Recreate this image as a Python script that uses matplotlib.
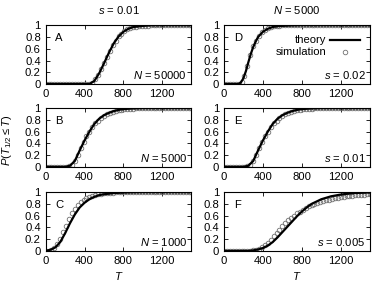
import numpy as np
import matplotlib
matplotlib.use("Agg")
import matplotlib.pyplot as plt

plt.rcParams['font.family'] = ['Liberation Sans', 'DejaVu Sans']
plt.rcParams['mathtext.fontset'] = 'custom'
plt.rcParams['mathtext.rm'] = 'Liberation Sans'
plt.rcParams['mathtext.it'] = 'Liberation Sans:italic'

# theory curves
T_th = [0, 50, 100, 150, 200, 250, 300, 350, 400, 450, 500, 550, 600, 650, 700,
        750, 800, 850, 900, 1000, 1100, 1200, 1300, 1400, 1500]
th_A = [0, 0, 0, 0, 0, 0, 0, 0, 0, 0, 0.05, 0.18, 0.35, 0.53, 0.69,
        0.81, 0.89, 0.94, 0.97, 0.99, 1, 1, 1, 1, 1]
th_B = [0, 0, 0, 0, 0, 0.02, 0.1, 0.28, 0.45, 0.6, 0.73, 0.82, 0.88, 0.92, 0.95,
        0.97, 0.985, 0.99, 0.995, 1, 1, 1, 1, 1, 1]
th_C = [0, 0.02, 0.06, 0.15, 0.3, 0.47, 0.62, 0.74, 0.82, 0.88, 0.92, 0.95, 0.965, 0.975, 0.985,
        0.99, 0.993, 0.996, 0.998, 1, 1, 1, 1, 1, 1]
th_F = [0, 0, 0, 0, 0, 0, 0.01, 0.025, 0.05, 0.09, 0.15, 0.23, 0.32, 0.41, 0.5,
        0.59, 0.67, 0.74, 0.8, 0.88, 0.93, 0.96, 0.98, 0.99, 0.995]
T_th_D = [0, 100, 150, 175, 200, 225, 250, 275, 300, 325, 350, 400, 450, 500, 550,
          600, 700, 800, 1000, 1500]
th_D = [0, 0, 0, 0.03, 0.1, 0.22, 0.37, 0.51, 0.63, 0.72, 0.8, 0.89, 0.94, 0.97, 0.985,
        0.99, 0.997, 1, 1, 1]

# simulation points
T_sim = [0, 30, 60, 90, 120, 150, 180, 210, 240, 270, 300, 330, 360, 390, 420, 450, 480,
         510, 540, 570, 600, 630, 660, 690, 720, 750, 780, 810, 840, 870, 900, 930, 960,
         990, 1020, 1050, 1080, 1110, 1140, 1170, 1200, 1230, 1260, 1290, 1320, 1350,
         1380, 1410, 1440, 1470, 1500]
sim_A = [0] * 16 + [0.01, 0.08, 0.16, 0.25, 0.35, 0.46, 0.57, 0.66, 0.74, 0.81, 0.86,
                    0.9, 0.93, 0.95, 0.965, 0.975, 0.985, 0.99, 0.993, 0.996, 0.998] + [1] * 14
sim_B = [0] * 8 + [0.01, 0.04, 0.1, 0.2, 0.32, 0.42, 0.52, 0.6, 0.68, 0.74, 0.79, 0.84,
                   0.87, 0.9, 0.92, 0.94, 0.955, 0.965, 0.975, 0.982, 0.987, 0.99, 0.993,
                   0.995, 0.997, 0.998] + [1] * 17
sim_C = [0, 0, 0.01, 0.05, 0.12, 0.2, 0.32, 0.42, 0.54, 0.64, 0.72, 0.78, 0.83, 0.87, 0.9,
         0.92, 0.94, 0.955, 0.965, 0.975, 0.98, 0.985, 0.99, 0.993, 0.995, 0.997, 0.998] + [1] * 24
sim_D = [0] * 6 + [0.03, 0.13, 0.3, 0.5, 0.64, 0.74, 0.82, 0.88, 0.92, 0.95, 0.97, 0.98,
                   0.99, 0.995, 0.998] + [1] * 30
sim_F = [0] * 10 + [0.01, 0.02, 0.04, 0.07, 0.1, 0.14, 0.19, 0.25, 0.3, 0.36, 0.42, 0.47,
                    0.52, 0.56, 0.6, 0.64, 0.67, 0.7, 0.73, 0.76, 0.78, 0.8, 0.82, 0.835,
                    0.85, 0.86, 0.875, 0.885, 0.895, 0.905, 0.915, 0.92, 0.93, 0.935, 0.94,
                    0.945, 0.95, 0.955, 0.96, 0.963, 0.966]

panels = [
    # letter, T theory, theory, sim, note, left, bottom
    ("A", T_th, th_A, sim_A, "$N$ = 50000", 0.122, 0.701),
    ("B", T_th, th_B, sim_B, "$N$ = 5000", 0.122, 0.406),
    ("C", T_th, th_C, sim_C, "$N$ = 1000", 0.122, 0.107),
    ("D", T_th_D, th_D, sim_D, "$s$ = 0.02", 0.599, 0.701),
    ("E", T_th, th_B, sim_B, "$s$ = 0.01", 0.599, 0.406),
    ("F", T_th, th_F, sim_F, "$s$ = 0.005", 0.599, 0.107),
]

fs = 8.1
fig = plt.figure(figsize=(3.74, 2.81), dpi=100)

for letter, tt, th, sim, note, left, bottom in panels:
    ax = fig.add_axes([left, bottom, 0.390, 0.209])
    ax.plot(T_sim, sim, linestyle="none", marker="o", markersize=3.3,
            markerfacecolor="none", markeredgecolor="#707070", markeredgewidth=0.6)
    ax.plot(tt, th, color="black", linewidth=1.6)
    ax.set_xlim(0, 1500)
    ax.set_ylim(0, 1)
    ax.set_xticks([0, 400, 800, 1200])
    ax.set_yticks([0, 0.2, 0.4, 0.6, 0.8, 1])
    ax.set_yticklabels(["0", "0.2", "0.4", "0.6", "0.8", "1"])
    ax.tick_params(direction="in", top=True, right=True, length=3, width=0.6,
                   labelsize=fs, pad=3.5)
    for sp in ax.spines.values():
        sp.set_linewidth(0.8)
    ax.text(100, 0.78, letter, fontsize=fs, va="center", ha="left")
    ax.text(1455, 0.15, note, fontsize=fs, va="center", ha="right")
    if letter == "D":
        ax.text(1053, 0.75, "theory", fontsize=fs, va="center", ha="right")
        ax.text(1053, 0.55, "simulation", fontsize=fs, va="center", ha="right")
        ax.plot([1090, 1395], [0.75, 0.75], color="black", linewidth=1.6)
        ax.plot([1241], [0.55], linestyle="none", marker="o", markersize=3.3,
                markerfacecolor="none", markeredgecolor="#707070", markeredgewidth=0.6)

fig.text(0.317, 0.964, "$s$ = 0.01", fontsize=fs, ha="center", va="center")
fig.text(0.794, 0.964, "$N$ = 5000", fontsize=fs, ha="center", va="center")
fig.text(0.317, 0.019, "$T$", fontsize=fs, ha="center", va="center")
fig.text(0.794, 0.019, "$T$", fontsize=fs, ha="center", va="center")
fig.text(0.018, 0.5, r"$P(T_{1/2} \leq T)$", fontsize=fs, ha="center", va="center",
         rotation=90)

fig.savefig("out.png", dpi=100)
